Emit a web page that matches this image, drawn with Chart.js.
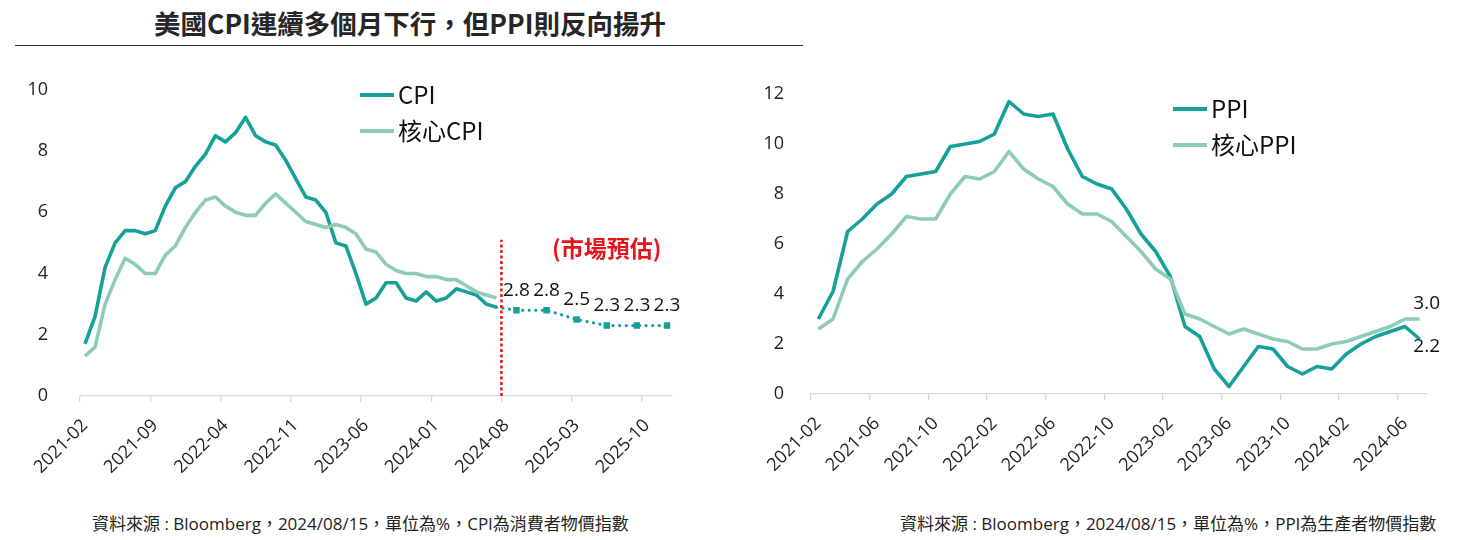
<!DOCTYPE html>
<html>
<head>
<meta charset="utf-8">
<script src="https://cdn.jsdelivr.net/npm/chart.js@4.4.1/dist/chart.umd.min.js"></script>
<style>
body{margin:0;width:1464px;height:540px;background:#fff;position:relative;overflow:hidden;font-family:'Open Sans','Noto Sans CJK TC',sans-serif;color:#222}
.title{position:absolute;left:15px;width:790px;top:3px;text-align:center;font-weight:bold;font-size:26.5px;font-family:'Noto Sans CJK TC',sans-serif;color:#262626}
.rule{position:absolute;left:15px;width:788px;top:45px;border-top:1.5px solid #333}
.box{position:absolute}
.leg{position:absolute;display:flex;align-items:center;height:30px;font-size:24px;font-family:'Noto Sans CJK TC',sans-serif;color:#111}
.leg i{display:inline-block;width:34px;height:4px;margin-right:4px}
.note{position:absolute;top:510px;font-size:17px;color:#222}
.est{position:absolute;left:552px;top:230px;color:#e8141b;font-weight:bold;font-size:23px;font-family:'Noto Sans CJK TC',sans-serif}
</style>
</head>
<body>
<div class="title">美國CPI連續多個月下行，但PPI則反向揚升</div>
<div class="rule"></div>

<div class="box" style="left:0;top:55px;width:730px;height:445px"><canvas id="cpiChart" width="730" height="445"></canvas></div>
<div class="box" style="left:735px;top:60px;width:729px;height:440px"><canvas id="ppiChart" width="729" height="440"></canvas></div>

<div class="leg" style="left:360px;top:78px"><i style="background:#16a09a;margin-top:3px"></i>CPI</div>
<div class="leg" style="left:360px;top:114px"><i style="background:#8ecbb8;margin-top:3px"></i>核心CPI</div>
<div class="leg" style="left:1173px;top:92px"><i style="background:#16a09a;margin-top:3px"></i>PPI</div>
<div class="leg" style="left:1173px;top:128px"><i style="background:#8ecbb8;margin-top:3px"></i>核心PPI</div>
<div class="est">(市場預估)</div>

<div class="note" style="left:92px">資料來源 : Bloomberg，2024/08/15，單位為%，CPI為消費者物價指數</div>
<div class="note" style="left:900px">資料來源 : Bloomberg，2024/08/15，單位為%，PPI為生產者物價指數</div>

<script>
// months on the left axis, 2021-02 .. 2025-12 (right chart uses the first 42)
const months = ['2021-02','2021-03','2021-04','2021-05','2021-06','2021-07','2021-08','2021-09','2021-10','2021-11','2021-12',
  '2022-01','2022-02','2022-03','2022-04','2022-05','2022-06','2022-07','2022-08','2022-09','2022-10','2022-11','2022-12',
  '2023-01','2023-02','2023-03','2023-04','2023-05','2023-06','2023-07','2023-08','2023-09','2023-10','2023-11','2023-12',
  '2024-01','2024-02','2024-03','2024-04','2024-05','2024-06','2024-07','2024-08','2024-09','2024-10','2024-11','2024-12',
  '2025-01','2025-02','2025-03','2025-04','2025-05','2025-06','2025-07','2025-08','2025-09','2025-10','2025-11','2025-12'];
const ppiMonths = months.slice(0, 42);

const cpi = [1.7,2.6,4.2,5.0,5.4,5.4,5.3,5.4,6.2,6.8,7.0,7.5,7.9,8.5,8.3,8.6,9.1,8.5,8.3,8.2,7.7,7.1,6.5,6.4,6.0,5.0,4.9,4.0,3.0,3.2,3.7,3.7,3.2,3.1,3.4,3.1,3.2,3.5,3.4,3.3,3.0,2.9];
const coreCpi = [1.3,1.6,3.0,3.8,4.5,4.3,4.0,4.0,4.6,4.9,5.5,6.0,6.4,6.5,6.2,6.0,5.9,5.9,6.3,6.6,6.3,6.0,5.7,5.6,5.5,5.6,5.5,5.3,4.8,4.7,4.3,4.1,4.0,4.0,3.9,3.9,3.8,3.8,3.6,3.4,3.3,3.2];
const forecastMonths = ['2024-07','2024-09','2024-12','2025-03','2025-06','2025-09','2025-12'];
const forecastValues = [2.9,2.8,2.8,2.5,2.3,2.3,2.3];
const forecastStart = '2024-08';
const forecastLineTop = 5.1;

const ppi = [3.0,4.1,6.5,7.0,7.6,8.0,8.7,8.8,8.9,9.9,10.0,10.1,10.4,11.7,11.2,11.1,11.2,9.8,8.7,8.4,8.2,7.4,6.4,5.7,4.7,2.7,2.3,1.0,0.3,1.1,1.9,1.8,1.1,0.8,1.1,1.0,1.6,2.0,2.3,2.5,2.7,2.2];
const corePpi = [2.6,3.0,4.6,5.3,5.8,6.4,7.1,7.0,7.0,8.0,8.7,8.6,8.9,9.7,9.0,8.6,8.3,7.6,7.2,7.2,6.9,6.3,5.7,5.0,4.6,3.2,3.0,2.7,2.4,2.6,2.4,2.2,2.1,1.8,1.8,2.0,2.1,2.3,2.5,2.7,3.0,3.0];

const darkTeal = '#16a09a';
const lightTeal = '#8ecbb8';
const tickFont = {family:"'Open Sans','Noto Sans CJK TC',sans-serif", size:18};

function xAxis(every, h){
  return {
    type:'category', offset:true,
    grid:{offset:true, drawOnChartArea:false, drawTicks:true, tickLength:6,
      color:c => (c.index % every === 0 ? '#d9d9d9' : 'rgba(0,0,0,0)'), lineWidth:1.3},
    border:{display:true, color:'#d9d9d9', width:1.3},
    ticks:{autoSkip:false, maxRotation:45, minRotation:45, padding:13, color:'#222', font:tickFont,
      callback:function(v, i){ return i % every === 0 ? this.getLabelForValue(v) : ''; }},
    afterFit(s){ s.height = h; }
  };
}
function yAxis(max, w, pad){
  return {
    min:0, max:max, grid:{display:false}, border:{display:false},
    ticks:{stepSize:2, padding:pad, color:'#222', font:tickFont},
    afterFit(s){ s.width = w; }
  };
}

const lineDefaults = {pointRadius:0, borderWidth:3.6, tension:0, fill:false, borderJoinStyle:'round'};

// red dotted divider + forecast value labels
const forecastMarks = {
  id:'forecastMarks',
  afterDatasetsDraw(chart){
    const {ctx, scales:{x, y}} = chart;
    const i = months.indexOf(forecastStart);
    const xp = (x.getPixelForValue(i - 1) + x.getPixelForValue(i)) / 2;
    ctx.save();
    ctx.strokeStyle = '#e8141b';
    ctx.lineWidth = 2.5;
    ctx.setLineDash([3, 2.5]);
    ctx.beginPath();
    ctx.moveTo(xp, y.getPixelForValue(0));
    ctx.lineTo(xp, y.getPixelForValue(forecastLineTop));
    ctx.stroke();
    ctx.setLineDash([]);
    const meta = chart.getDatasetMeta(2);
    ctx.fillStyle = '#111';
    ctx.font = "19px 'Open Sans','Noto Sans CJK TC',sans-serif";
    ctx.textAlign = 'center';
    ctx.textBaseline = 'middle';
    meta.data.forEach((p, k) => {
      if (k === 0) return;
      ctx.fillText(forecastValues[k].toFixed(1), p.x, p.y - 20);
    });
    ctx.restore();
  }
};

new Chart(document.getElementById('cpiChart'), {
  type:'line',
  data:{
    labels:months,
    datasets:[
      Object.assign({label:'核心CPI', data:coreCpi, borderColor:lightTeal}, lineDefaults),
      Object.assign({label:'CPI', data:cpi, borderColor:darkTeal}, lineDefaults),
      {label:'預估', data:forecastMonths.map((m, k) => ({x:m, y:forecastValues[k]})),
        borderColor:darkTeal, backgroundColor:darkTeal, borderWidth:3.2, borderDash:[0.1, 6.5], borderCapStyle:'round',
        pointStyle:'rect', pointRadius:c => (c.dataIndex === 0 ? 0 : 4.6), pointBorderWidth:0, tension:0}
    ]
  },
  options:{
    responsive:false, animation:false,
    layout:{padding:{top:30, right:58, left:0, bottom:0}},
    plugins:{legend:{display:false}, tooltip:{enabled:false}},
    scales:{x:xAxis(7, 104), y:yAxis(10, 80, 24)}
  },
  plugins:[forecastMarks]
});

// end labels on the PPI chart
const endLabels = {
  id:'endLabels',
  afterDatasetsDraw(chart){
    const {ctx} = chart;
    const core = chart.getDatasetMeta(0).data.at(-1);
    const head = chart.getDatasetMeta(1).data.at(-1);
    ctx.save();
    ctx.fillStyle = '#111';
    ctx.font = "19px 'Open Sans','Noto Sans CJK TC',sans-serif";
    ctx.textAlign = 'center';
    ctx.textBaseline = 'middle';
    ctx.fillText(corePpi.at(-1).toFixed(1), core.x + 7, core.y - 15);
    ctx.fillText(ppi.at(-1).toFixed(1), head.x + 7, head.y + 8);
    ctx.restore();
  }
};

new Chart(document.getElementById('ppiChart'), {
  type:'line',
  data:{
    labels:ppiMonths,
    datasets:[
      Object.assign({label:'核心PPI', data:corePpi, borderColor:lightTeal}, lineDefaults),
      Object.assign({label:'PPI', data:ppi, borderColor:darkTeal}, lineDefaults)
    ]
  },
  options:{
    responsive:false, animation:false,
    layout:{padding:{top:34, right:37, left:0, bottom:0}},
    plugins:{legend:{display:false}, tooltip:{enabled:false}},
    scales:{x:xAxis(4, 106), y:yAxis(12, 76, 19)}
  },
  plugins:[endLabels]
});
</script>
</body>
</html>
